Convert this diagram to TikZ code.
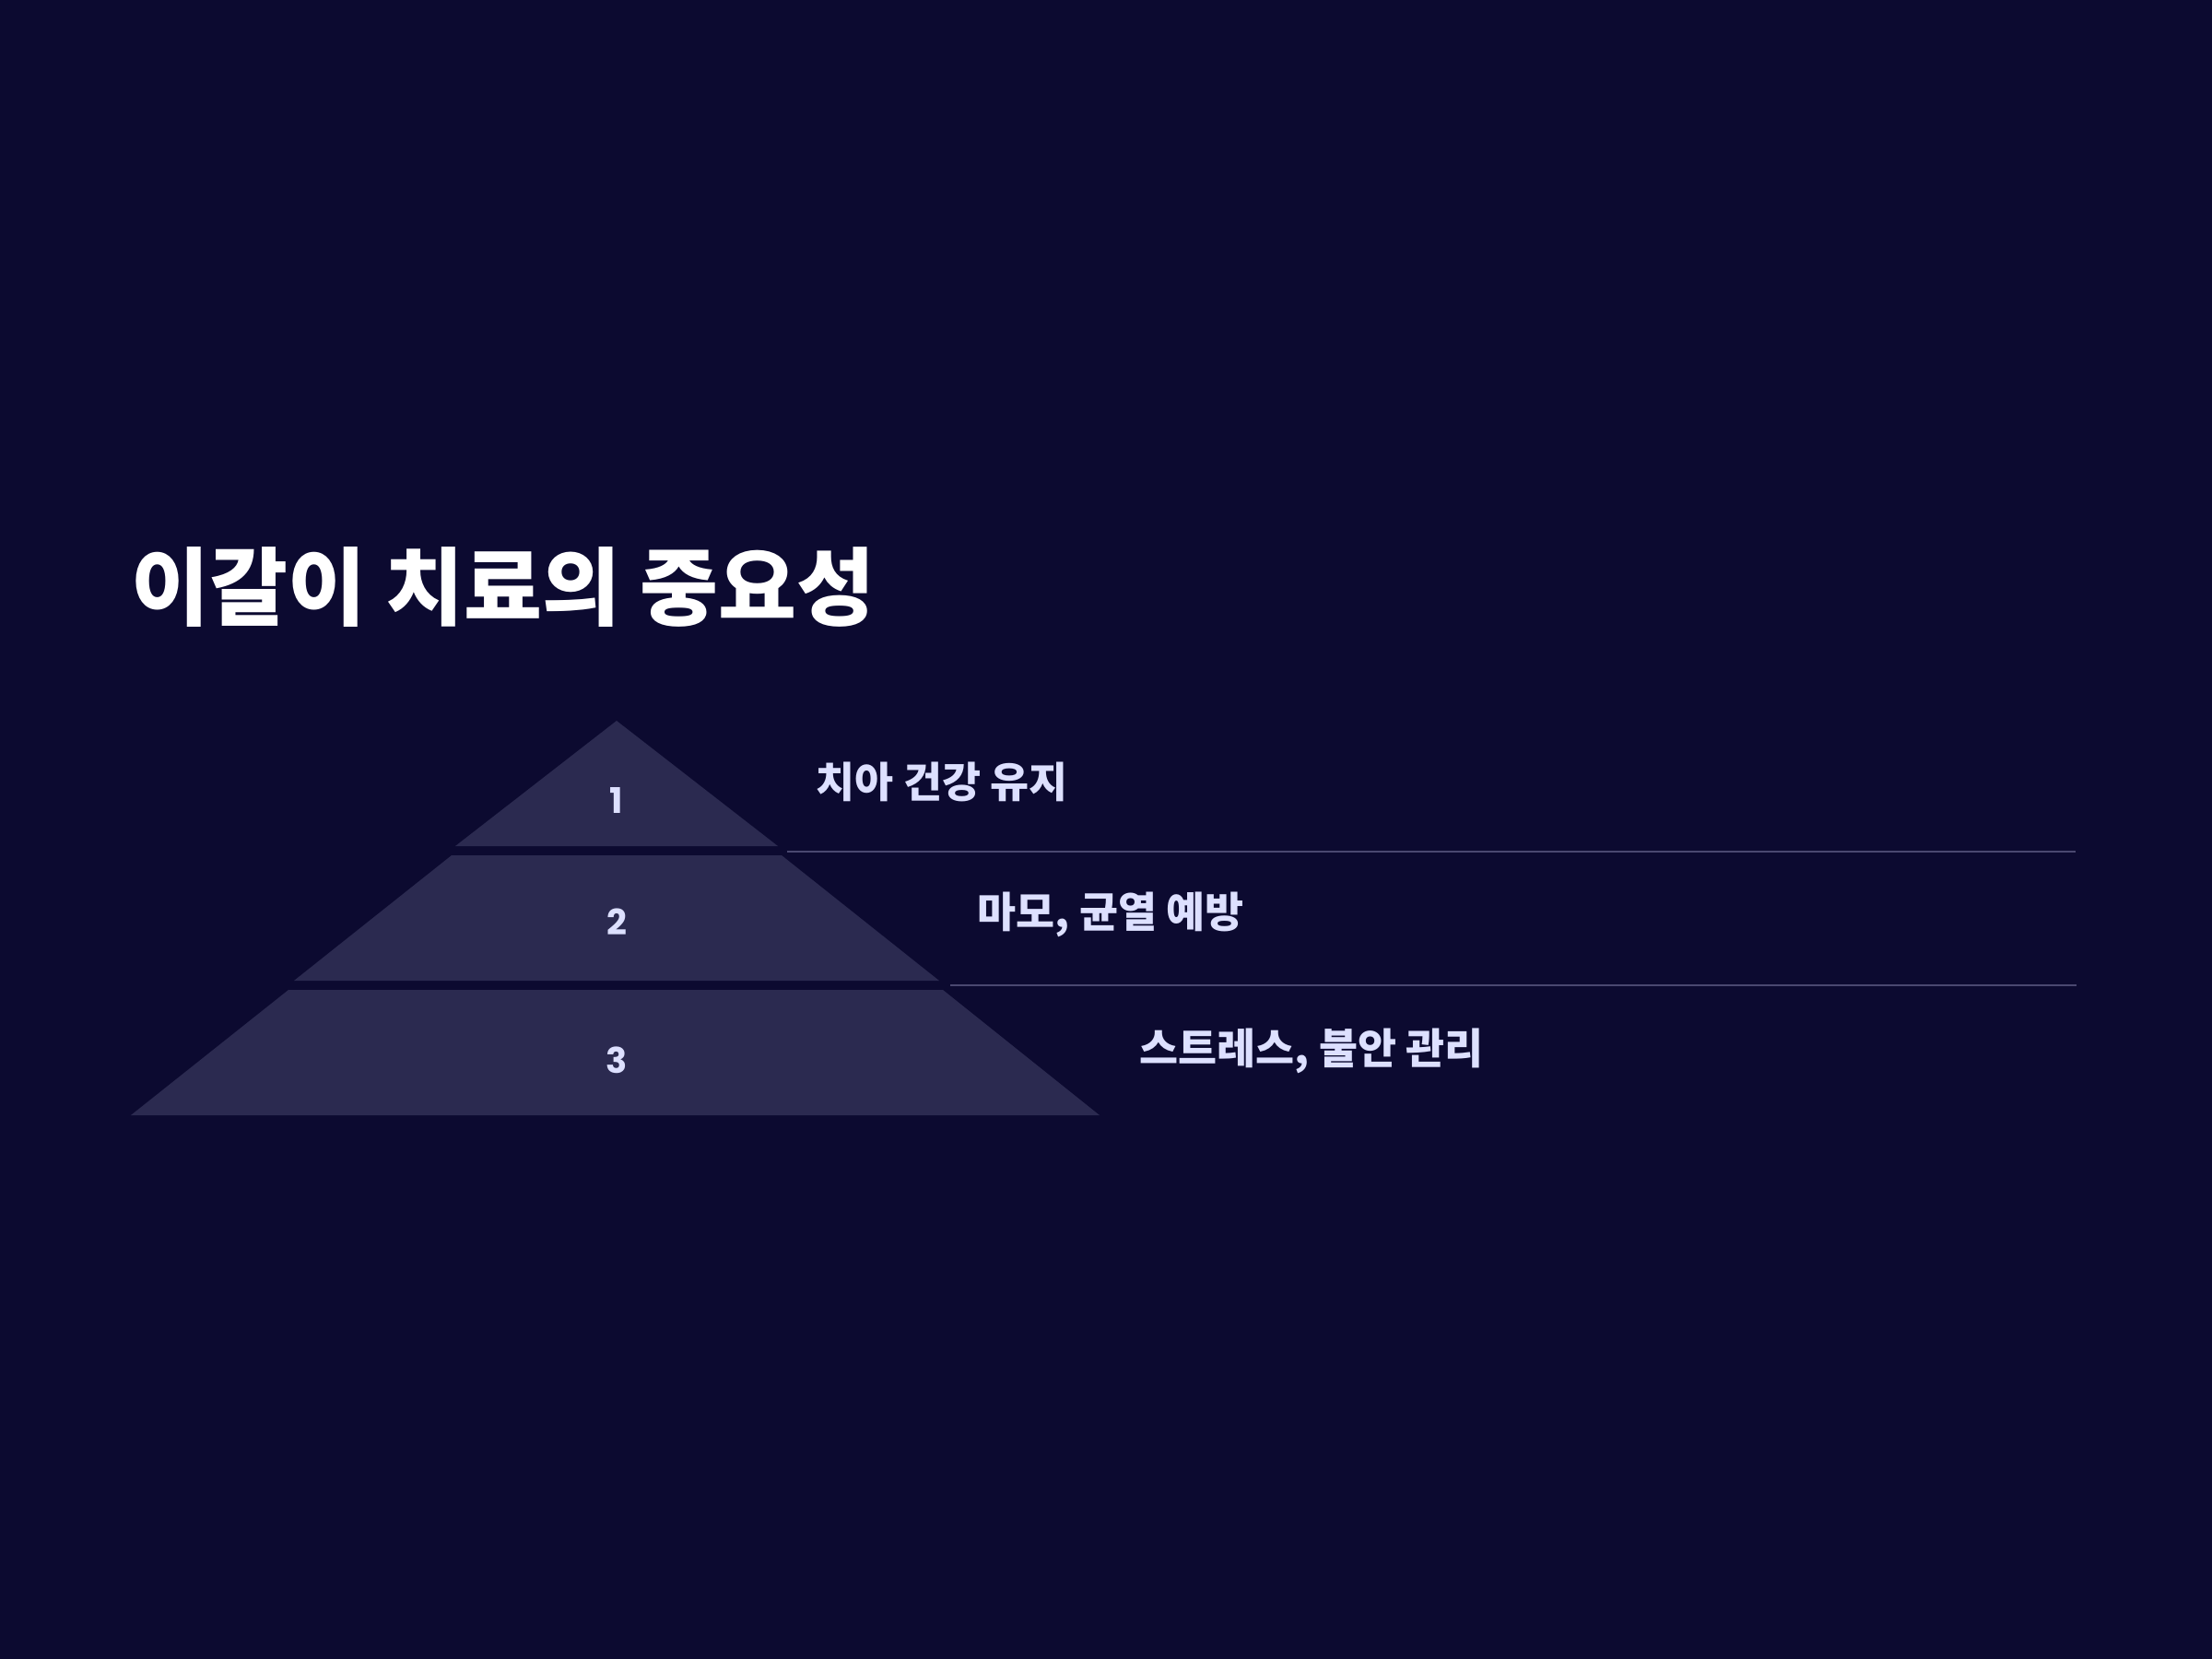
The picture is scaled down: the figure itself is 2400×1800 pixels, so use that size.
\documentclass[tikz,border=0pt]{standalone}
\usepackage{fontspec}
\newfontfamily\kr{Noto Sans CJK KR}
\newfontfamily\numfont{Poppins}
\definecolor{bg}{HTML}{0C0A30}
\definecolor{pyr}{HTML}{2B2A50}
\definecolor{txt}{HTML}{DDE0FF}
\definecolor{sep}{HTML}{4A4870}
\begin{document}
\begin{tikzpicture}[x=0.3pt,y=-0.3pt,
  level/.style={fill=pyr,draw=none},
  num/.style={inner sep=0pt,text=txt,font=\numfont\bfseries\fontsize{11.5}{13}\selectfont},
  item/.style={inner sep=0pt,anchor=west,text=txt,font=\kr\bfseries\fontsize{13.7}{16}\selectfont},
  sepline/.style={draw=sep,line width=0.6pt}]
\fill[bg] (0,0) rectangle (2400,1800);
\useasboundingbox (0,0) rectangle (2400,1800);
% title
\node[anchor=west,inner sep=0pt,text=white,font=\kr\bfseries\fontsize{27.7}{31}\selectfont] (title) at (142,637) {이갈이 치료의 중요성};
% pyramid
\fill[level] (669,782) -- (844,918) -- (494,918) -- cycle;
\fill[level] (490,928) -- (848,928) -- (1019,1064) -- (319,1064) -- cycle;
\fill[level] (313,1074) -- (1023,1074) -- (1193,1210) -- (142,1210) -- cycle;
\node[num] (n1) at (669,868) {1};
\node[num] (n2) at (669,1000) {2};
\node[num] (n3) at (669,1150) {3};
% separators
\coordinate (s1a) at (854,924);
\coordinate (s1b) at (2252,924);
\coordinate (s2a) at (1031,1069);
\coordinate (s2b) at (2253,1069);
\draw[sepline] (s1a) -- (s1b);
\draw[sepline] (s2a) -- (s2b);
% items
\node[item] (t1) at (885,848) {치아 건강 유지};
\node[item] (t2) at (1060,992) {마모, 균열 예방};
\node[item] (t3) at (1236,1140) {스트레스, 불안 관리};
\end{tikzpicture}
\end{document}
